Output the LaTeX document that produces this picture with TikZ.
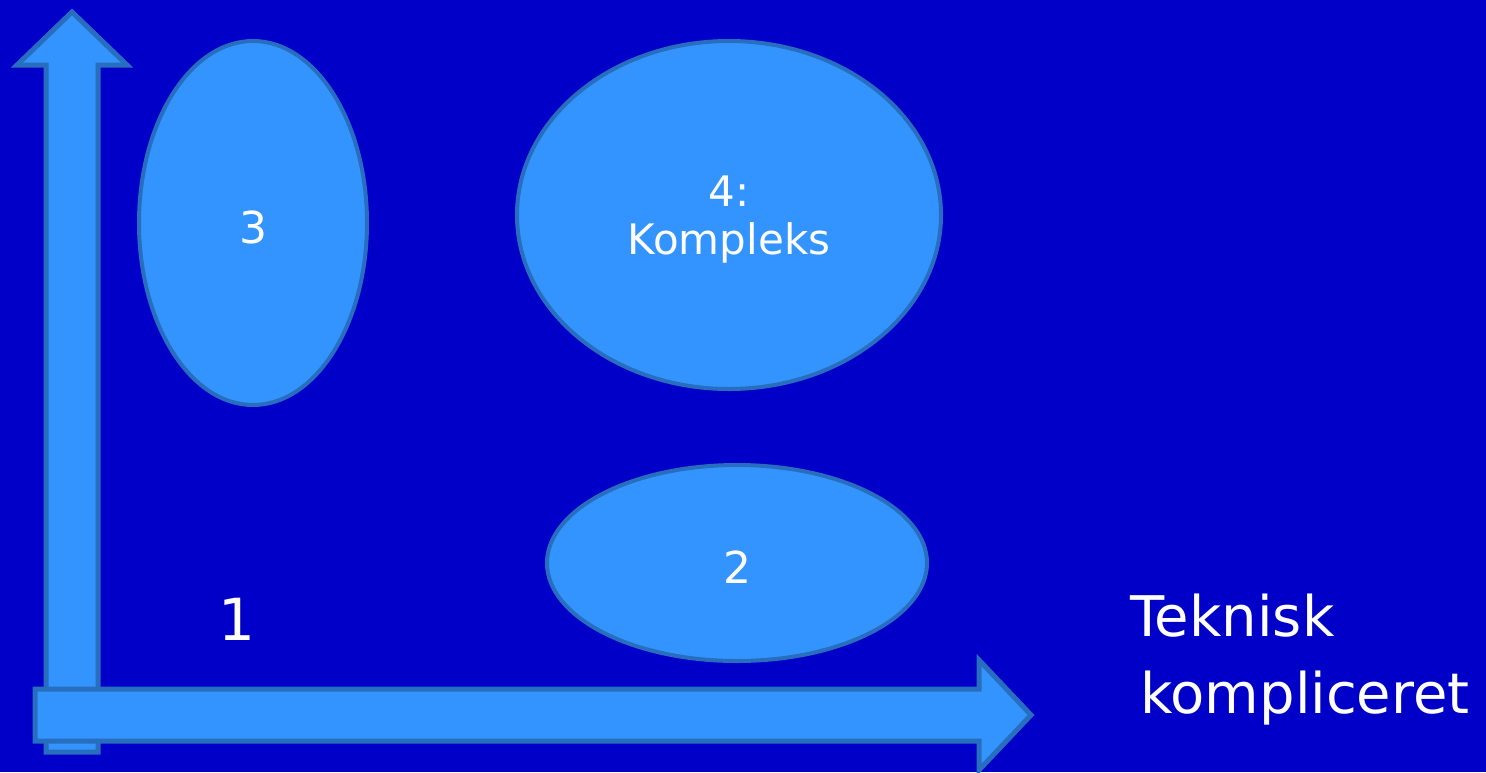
\documentclass[tikz,border=0pt]{standalone}
\usepackage{fontspec}
\setmainfont{DejaVu Sans}
\usetikzlibrary{shapes.geometric}
\definecolor{bg}{RGB}{0,0,200}
\definecolor{fillb}{RGB}{51,148,255}
\definecolor{edgeb}{RGB}{40,110,190}
\begin{document}
\begin{tikzpicture}[x=1pt,y=-1pt,
  shapestyle/.style={fill=fillb,draw=edgeb,line width=5pt,line join=miter},
  oval/.style={ellipse,fill=fillb,draw=edgeb,line width=4pt,inner sep=0pt,text=white},
  lbl/.style={text=white,inner sep=0pt}]
\fill[bg] (0,0) rectangle (1486,772);
\useasboundingbox (0,0) rectangle (1486,772);
% vertical arrow
\draw[shapestyle] (46,752) -- (46,65) -- (17,65) -- (72,12) -- (127,65) -- (98,65) -- (98,752) -- cycle;
% horizontal arrow
\draw[shapestyle] (35,689) -- (979,689) -- (979,660) -- (1031,715) -- (979,770) -- (979,741) -- (35,741) -- cycle;
% ellipses
\node[oval,minimum width=228pt,minimum height=364pt] (e3) at (253,223) {};
\node[oval,minimum width=424pt,minimum height=348pt] (e4) at (729,215) {};
\node[oval,minimum width=380pt,minimum height=196pt] (e2) at (737,563) {};
\node[lbl,font=\fontsize{44}{50}\selectfont] (t3) at (253,227) {3};
\node[lbl,font=\fontsize{42}{50}\selectfont,align=center] (t4) at (729,220) {4:\\[-2pt]Kompleks};
\node[lbl,font=\fontsize{44}{50}\selectfont] (t2) at (737,567) {2};
\node[lbl,font=\fontsize{58}{66}\selectfont] (t1) at (237,619) {1};
\node[lbl,font=\fontsize{56}{77}\selectfont,align=left,anchor=west] (tk) at (1130,660) {Teknisk\\\hspace*{10pt}kompliceret};
\end{tikzpicture}
\end{document}
